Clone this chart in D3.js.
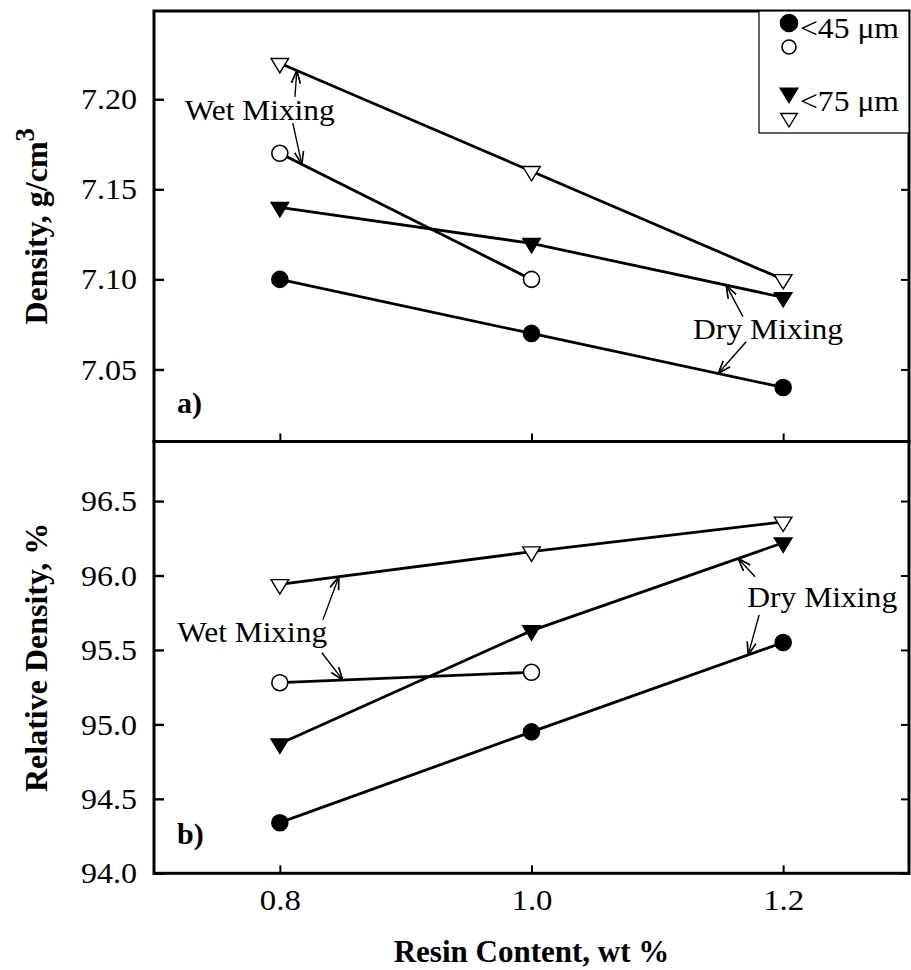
<!DOCTYPE html>
<html>
<head>
<meta charset="utf-8">
<script src="https://cdn.jsdelivr.net/npm/d3@7"></script>
<style>
  body { margin: 0; background: #fff; }
  svg { display: block; }
  svg text { font-family: "Liberation Serif", "Times New Roman", Times, "DejaVu Serif", serif; }
</style>
</head>
<body>
<div id="chart"></div>
<script>
// resin content, wt %
const resin = [0.8, 1.0, 1.2];

// a) density, g/cm3
const densDry45 = [7.10, 7.07, 7.04];
const densWet45 = [7.17, 7.10];
const densDry75 = [7.14, 7.12, 7.09];
const densWet75 = [7.22, 7.16, 7.10];

// b) relative density, %
const relDry45 = [94.34, 94.95, 95.55];
const relWet45 = [95.28, 95.35];
const relDry75 = [94.87, 95.63, 96.22];
const relWet75 = [95.94, 96.16, 96.36];

const xTicks = [0.8, 1.0, 1.2];
const densTicks = [7.05, 7.10, 7.15, 7.20];
const relTicks = [94.0, 94.5, 95.0, 95.5, 96.0, 96.5];

const width = 911;
const height = 970;
const serif = '"Liberation Serif", "Times New Roman", Times, "DejaVu Serif", serif';

const svg = d3.select('#chart').append('svg')
    .attr('width', width).attr('height', height);

const x = d3.scaleLinear().domain([0.7, 1.3]).range([154, 909]);
const yTop = d3.scaleLinear().domain([7.01, 7.249]).range([441.5, 11]);
const yBot = d3.scaleLinear().domain([94.0, 96.9]).range([873.3, 441.5]);

function toPoints(values) {
    return values.map((v, i) => ({x: resin[i], y: v}));
}

const panels = [
    {
        y: yTop, ticks: densTicks, fmt: d3.format('.2f'), tag: 'a)',
        series: [
            {pts: toPoints(densDry45), shape: 'circle', fill: '#000'},
            {pts: toPoints(densWet45), shape: 'circle', fill: '#fff'},
            {pts: toPoints(densDry75), shape: 'tri', fill: '#000'},
            {pts: toPoints(densWet75), shape: 'tri', fill: '#fff'}
        ],
        notes: [
            {text: 'Wet Mixing', x: 0.784, y: 7.1885, arrows: [
                {from: [0.812, 7.2013], series: 3, tipX: 0.8135},
                {from: [0.8103, 7.1868], series: 1, tipX: 0.8175}
            ]},
            {text: 'Dry Mixing', x: 1.188, y: 7.0671, arrows: [
                {from: [1.168, 7.0793], series: 2, tipX: 1.1547},
                {from: [1.1706, 7.0654], series: 0, tipX: 1.1483}
            ]}
        ]
    },
    {
        y: yBot, ticks: relTicks, fmt: d3.format('.1f'), tag: 'b)',
        series: [
            {pts: toPoints(relDry45), shape: 'circle', fill: '#000'},
            {pts: toPoints(relWet45), shape: 'circle', fill: '#fff'},
            {pts: toPoints(relDry75), shape: 'tri', fill: '#000'},
            {pts: toPoints(relWet75), shape: 'tri', fill: '#fff'}
        ],
        notes: [
            {text: 'Wet Mixing', x: 0.778, y: 95.554, arrows: [
                {from: [0.8342, 95.702], series: 3, tipX: 0.8469},
                {from: [0.8334, 95.481], series: 1, tipX: 0.8501}
            ]},
            {text: 'Dry Mixing', x: 1.231, y: 95.79, arrows: [
                {from: [1.1777, 95.991], series: 2, tipX: 1.1642},
                {from: [1.1809, 95.736], series: 0, tipX: 1.1722}
            ]}
        ]
    }
];

// open arrow head
svg.append('defs').append('marker')
    .attr('id', 'head')
    .attr('viewBox', '0 0 10 10')
    .attr('refX', 10).attr('refY', 5)
    .attr('markerWidth', 13).attr('markerHeight', 13)
    .attr('markerUnits', 'userSpaceOnUse')
    .attr('orient', 'auto')
    .append('path')
    .attr('d', 'M0,1.5 L10,5 L0,8.5')
    .attr('fill', 'none')
    .attr('stroke', '#000')
    .attr('stroke-width', 1.3);

function triPath(w, h) {
    return `M0,${2 * h / 3} L${-w / 2},${-h / 3} L${w / 2},${-h / 3} Z`;
}

function drawMarker(g, shape, fill, cx, cy, size) {
    if (shape === 'circle') {
        g.append('circle')
            .attr('cx', cx).attr('cy', cy).attr('r', size)
            .attr('fill', fill).attr('stroke', '#000').attr('stroke-width', 1.6);
    } else {
        g.append('path')
            .attr('d', triPath(size * 2.2, size * 1.8))
            .attr('transform', `translate(${cx},${cy})`)
            .attr('fill', fill).attr('stroke', '#000').attr('stroke-width', 1.4);
    }
}

// value on a series line at a given x, for arrow tips
function onLine(pts, xv) {
    for (let i = 0; i < pts.length - 1; i++) {
        const a = pts[i], b = pts[i + 1];
        if (xv >= a.x && xv <= b.x) {
            return a.y + (b.y - a.y) * (xv - a.x) / (b.x - a.x);
        }
    }
    return pts[0].y;
}

// the scanned type is a little wider than the font
function widen(sel, len) {
    sel.attr('textLength', len).attr('lengthAdjust', 'spacingAndGlyphs');
}

panels.forEach(p => {
    const y = p.y;
    const [y0, y1] = y.range();

    // left axis with labels, ticks inward
    svg.append('g')
        .attr('transform', `translate(${x.range()[0]},0)`)
        .call(d3.axisLeft(y).tickValues(p.ticks).tickFormat(p.fmt)
            .tickSizeInner(-10).tickSizeOuter(0).tickPadding(17))
        .attr('font-family', serif)
        .call(g => g.select('.domain').remove())
        .call(g => g.selectAll('line').attr('stroke-width', 2.4))
        .call(g => g.selectAll('text').attr('font-size', 30).attr('fill', '#000').call(widen, 56));

    // right axis ticks
    svg.append('g')
        .attr('transform', `translate(${x.range()[1]},0)`)
        .call(d3.axisRight(y).tickValues(p.ticks).tickFormat('')
            .tickSizeInner(-8).tickSizeOuter(0))
        .call(g => g.select('.domain').remove())
        .call(g => g.selectAll('line').attr('stroke-width', 2));

    // bottom ticks of each panel
    svg.append('g')
        .attr('transform', `translate(0,${y0})`)
        .call(d3.axisBottom(x).tickValues(xTicks)
            .tickFormat(p.tag === 'b)' ? d3.format('.1f') : '')
            .tickSizeInner(-8).tickSizeOuter(0).tickPadding(15))
        .attr('font-family', serif)
        .call(g => g.select('.domain').remove())
        .call(g => g.selectAll('line').attr('stroke-width', 2))
        .call(g => g.selectAll('text').filter(function () { return this.textContent; })
            .attr('font-size', 30).attr('fill', '#000').call(widen, 41));

    // frame
    svg.append('rect')
        .attr('x', x.range()[0]).attr('y', y1)
        .attr('width', x.range()[1] - x.range()[0]).attr('height', y0 - y1)
        .attr('fill', 'none').attr('stroke', '#000').attr('stroke-width', 3);

    // panel tag
    svg.append('text')
        .attr('x', 177).attr('y', y0 - 29)
        .attr('font-size', 30).attr('font-weight', 'bold')
        .text(p.tag);

    const line = d3.line().x(d => x(d.x)).y(d => y(d.y));
    const plot = svg.append('g');

    p.series.forEach(s => {
        plot.append('path')
            .datum(s.pts)
            .attr('d', line)
            .attr('fill', 'none')
            .attr('stroke', '#000')
            .attr('stroke-width', 2.8);
    });
    p.series.forEach(s => {
        s.pts.forEach(d => drawMarker(plot, s.shape, s.fill, x(d.x), y(d.y), 8));
    });

    // annotations
    p.notes.forEach(n => {
        svg.append('text')
            .attr('x', x(n.x)).attr('y', y(n.y))
            .attr('text-anchor', 'middle')
            .attr('font-size', 29)
            .text(n.text)
            .call(widen, 150);
        n.arrows.forEach(a => {
            const tipY = onLine(p.series[a.series].pts, a.tipX);
            svg.append('line')
                .attr('x1', x(a.from[0])).attr('y1', y(a.from[1]))
                .attr('x2', x(a.tipX)).attr('y2', y(tipY))
                .attr('stroke', '#000').attr('stroke-width', 1.4)
                .attr('marker-end', 'url(#head)');
        });
    });
});

// legend
const legend = svg.append('g');
legend.append('rect')
    .attr('x', 759).attr('y', 11).attr('width', 150).attr('height', 122)
    .attr('fill', '#fff').attr('stroke', '#000').attr('stroke-width', 1.2);
drawMarker(legend, 'circle', '#000', 789, 23, 8.5);
drawMarker(legend, 'circle', '#fff', 789, 47, 7);
drawMarker(legend, 'tri', '#000', 789, 93, 8);
drawMarker(legend, 'tri', '#fff', 789, 118, 7.5);
legend.append('text').attr('x', 800).attr('y', 38)
    .attr('font-size', 29).text('<45 \u03bcm').call(widen, 99);
legend.append('text').attr('x', 800).attr('y', 111)
    .attr('font-size', 29).text('<75 \u03bcm').call(widen, 99);

// axis titles
svg.append('text')
    .attr('transform', `translate(47,${(yTop.range()[0] + yTop.range()[1]) / 2}) rotate(-90)`)
    .attr('text-anchor', 'middle')
    .attr('font-size', 32).attr('font-weight', 'bold')
    .text('Density, g/cm')
    .append('tspan').attr('dy', -13).attr('font-size', 27).text('3');

svg.append('text')
    .attr('transform', `translate(47,${(yBot.range()[0] + yBot.range()[1]) / 2}) rotate(-90)`)
    .attr('text-anchor', 'middle')
    .attr('font-size', 32).attr('font-weight', 'bold')
    .text('Relative Density, %');

svg.append('text')
    .attr('x', (x.range()[0] + x.range()[1]) / 2).attr('y', 962)
    .attr('text-anchor', 'middle')
    .attr('font-size', 31).attr('font-weight', 'bold')
    .text('Resin Content, wt %');

svg.selectAll('text').style('font-family', serif);
</script>
</body>
</html>
